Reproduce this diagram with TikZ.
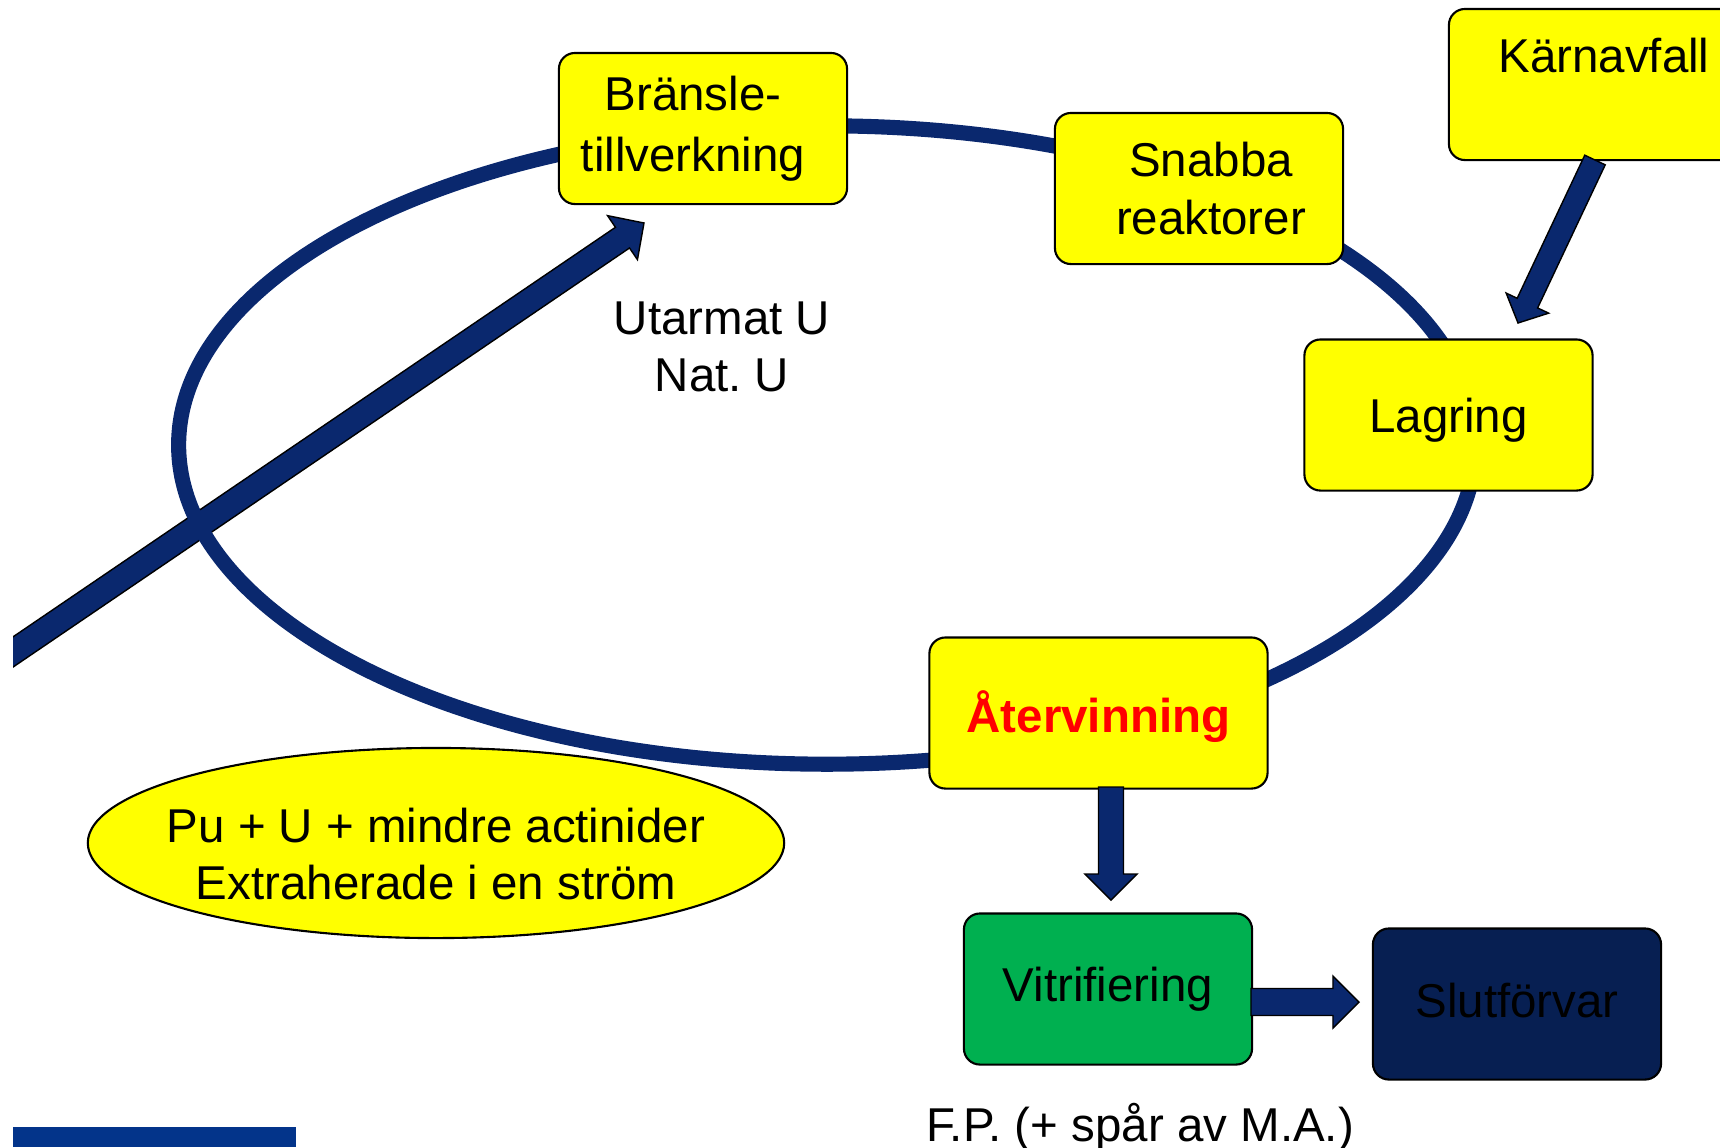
\documentclass[tikz,border=0pt]{standalone}
\usepackage{fontspec}
\setmainfont{Liberation Sans}
\usetikzlibrary{positioning}
\usetikzlibrary{calc}

\frenchspacing

\definecolor{pilnavy}{RGB}{10,40,110}
\definecolor{gulbox}{RGB}{255,255,0}
\definecolor{gronbox}{RGB}{0,176,80}
\definecolor{morkbox}{RGB}{7,31,82}
\definecolor{listblue}{RGB}{3,52,138}
\definecolor{rodtext}{RGB}{255,0,0}

\tikzset{
	steg/.style={draw=black, line width=0.6pt, rounded corners=0.16cm,
		minimum width=2.88cm, minimum height=1.51cm, align=center, inner sep=0pt,
		font=\fontsize{13.5}{16.4}\selectfont},
	etikett/.style={align=center, inner sep=0pt, font=\fontsize{13.5}{16.4}\selectfont},
	pilstil/.style={fill=pilnavy, draw=black, line width=0.4pt, line join=miter},
	cykel/.style={draw=pilnavy, line width=4.3pt}
}

% block arrow: from, to, half shaft, half head, head length
\newcommand{\blockpil}[5]{%
	\coordinate (bp-h) at ($(#2)!#5!(#1)$);
	\filldraw[pilstil] ($(#1)!#3!90:(#2)$) -- ($(bp-h)!#3!-90:(#1)$)
		-- ($(bp-h)!#4!-90:(#1)$) -- (#2) -- ($(bp-h)!#4!90:(#1)$)
		-- ($(bp-h)!#3!90:(#1)$) -- ($(#1)!#3!-90:(#2)$) -- cycle;
}
% move text down without changing its box
\newcommand{\sank}[2]{\raisebox{-#1}[\height][\depth]{#2}}

\begin{document}
\begin{tikzpicture}[x=0.01cm,y=-0.01cm]
		\useasboundingbox (0,0) rectangle (1720,1147);
		\clip (13,0) rectangle (1720,1147);

		% Define the coordinates of the arrow ends
		\coordinate (natin) at (-10,667.6);
		\coordinate (nattopp) at (644,223);
		\coordinate (karnut) at (1595,160);
		\coordinate (karntopp) at (1518,323);
		\coordinate (atut) at (1111,787);
		\coordinate (vittopp) at (1111,900);
		\coordinate (vitut) at (1251,1002);
		\coordinate (sluttopp) at (1359,1002);

		% Draw the feed arrow and the cycle
		\blockpil{natin}{nattopp}{0.125cm}{0.266cm}{0.26cm}
		\draw[cykel] (827,445) ellipse [x radius=6.48cm, y radius=3.19cm];

		% Draw the boxes
		\node[steg, fill=gulbox] (bransle) at (703,128.5) {\raisebox{0.03cm}{Bränsle-\hspace*{0.2cm}}\\tillverkning\hspace*{0.2cm}};
		\node[steg, fill=gulbox] (snabba) at (1199,188.5) {\hspace*{0.24cm}Snabba\\\hspace*{0.24cm}reaktorer};
		\node[steg, fill=gulbox, minimum width=3.1cm] (karn) at (1604,84.5) {Kärnavfall\\\mbox{}};
		\node[steg, fill=gulbox] (lagring) at (1448.5,415) {\sank{0.055cm}{Lagring}};
		\node[steg, fill=gulbox, minimum width=3.38cm, text=rodtext, font=\fontsize{13.5}{16.4}\selectfont\bfseries] (atervinning) at (1098.5,713) {\sank{0.04cm}{Återvinning}};
		\node[steg, fill=gronbox] (vitri) at (1108,989) {Vitrifiering};
		\node[steg, fill=morkbox] (slut) at (1517,1004) {\sank{-0.03cm}{Slutförvar}};

		% The extracted stream
		\filldraw[fill=gulbox, draw=black, line width=0.6pt] (436,843) ellipse [x radius=3.48cm, y radius=0.95cm];
		\node[etikett] (extrakt) at (436,854) {Pu + U + mindre actinider\\Extraherade i en ström};

		% Labels
		\node[etikett] (utarmat) at (722,347) {Utarmat U\\Nat. U};
		\node[etikett, anchor=base] (fp) at (1140,1141) {F.P. (+ spår av M.A.)};

		% Draw the other arrows
		\blockpil{karnut}{karntopp}{0.113cm}{0.235cm}{0.22cm}
		\blockpil{atut}{vittopp}{0.125cm}{0.26cm}{0.26cm}
		\blockpil{vitut}{sluttopp}{0.135cm}{0.26cm}{0.26cm}

		\fill[listblue] (13,1127) rectangle (296,1147);
	\end{tikzpicture}
\end{document}
